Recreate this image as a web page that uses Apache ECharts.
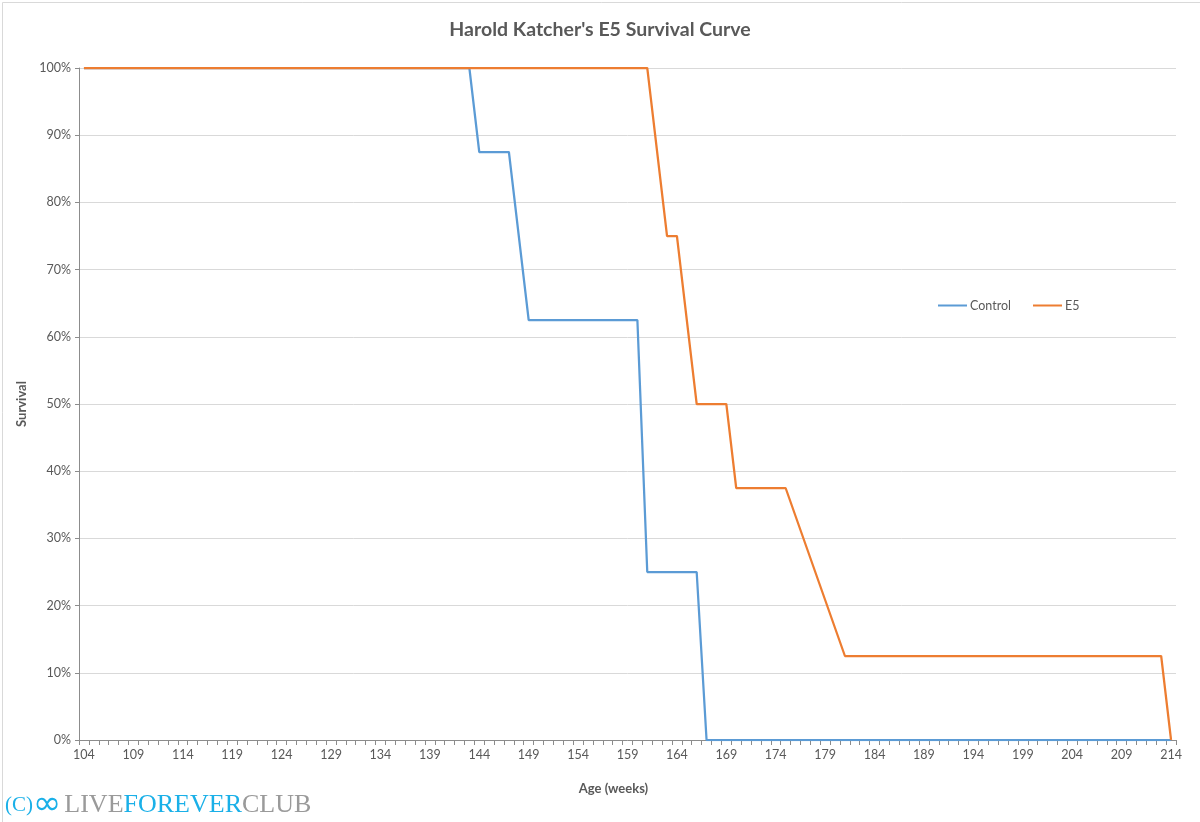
<!DOCTYPE html>
<html>
<head>
<meta charset="utf-8">
<script src="https://cdn.jsdelivr.net/npm/echarts@6/dist/echarts.min.js"></script>
<style>
html,body{margin:0;padding:0;background:#fff;}
#chart{width:1200px;height:822px;}
</style>
</head>
<body>
<div id="chart"></div>
<script>
const weeks = [104,105,106,107,108,109,110,111,112,113,114,115,116,117,118,119,120,121,122,123,124,125,126,127,128,129,130,131,132,133,134,135,136,137,138,139,140,141,142,143,144,145,146,147,148,149,150,151,152,153,154,155,156,157,158,159,160,161,162,163,164,165,166,167,168,169,170,171,172,173,174,175,176,177,178,179,180,181,182,183,184,185,186,187,188,189,190,191,192,193,194,195,196,197,198,199,200,201,202,203,204,205,206,207,208,209,210,211,212,213,214];

// Survival (%) per week; null = no observation (line connects across)
const control = [
 100,100,100,100,100,100,100,100,100,100, // 104-113
 100,100,100,100,100,100,100,100,100,100, // 114-123
 100,100,100,100,100,100,100,100,100,100, // 124-133
 100,100,100,100,100,100,100,100,100,100, // 134-143
 87.5,87.5,87.5,87.5,null,               // 144-148
 62.5,62.5,62.5,62.5,62.5,62.5,62.5,62.5,62.5,62.5,62.5,62.5, // 149-160
 25,25,25,25,25,25,                      // 161-166
 0,0,0,0,0,0,0,0,0,0,                    // 167-176
 0,0,0,0,0,0,0,0,0,0,                    // 177-186
 0,0,0,0,0,0,0,0,0,0,                    // 187-196
 0,0,0,0,0,0,0,0,0,0,                    // 197-206
 0,0,0,0,0,0,0,0                         // 207-214
];

const e5 = [
 100,100,100,100,100,100,100,100,100,100, // 104-113
 100,100,100,100,100,100,100,100,100,100, // 114-123
 100,100,100,100,100,100,100,100,100,100, // 124-133
 100,100,100,100,100,100,100,100,100,100, // 134-143
 100,100,100,100,100,100,100,100,100,100, // 144-153
 100,100,100,100,100,100,100,100,        // 154-161
 null,75,75,null,                        // 162-165
 50,50,50,50,                            // 166-169
 37.5,37.5,37.5,37.5,37.5,37.5,          // 170-175
 null,null,null,null,null,               // 176-180
 12.5,12.5,12.5,12.5,12.5,12.5,12.5,12.5,12.5,12.5, // 181-190
 12.5,12.5,12.5,12.5,12.5,12.5,12.5,12.5,12.5,12.5, // 191-200
 12.5,12.5,12.5,12.5,12.5,12.5,12.5,12.5,12.5,12.5, // 201-210
 12.5,12.5,12.5,                         // 211-213
 0                                       // 214
];

const seriesNames = ['Control', 'E5'];
const titleText = "Harold Katcher's E5 Survival Curve";

const chart = echarts.init(document.getElementById('chart'), null, {renderer: 'canvas'});
const FONT = 'Lato, "Open Sans", sans-serif';
chart.setOption({
  backgroundColor: '#ffffff',
  animation: false,
  title: {
    text: titleText,
    left: 'center',
    top: 15,
    textStyle: {fontFamily: FONT, fontSize: 19.5, fontWeight: 'bold', color: '#595959'}
  },
  legend: {
    data: seriesNames,
    left: 933,
    top: 294,
    icon: 'rect',
    itemWidth: 29,
    itemHeight: 2,
    itemGap: 22,
    textStyle: {fontFamily: FONT, fontSize: 12.5, color: '#595959', padding: [0,0,0,-2]}
  },
  grid: {left: 79, right: 24, top: 68, bottom: 82, containLabel: false},
  xAxis: {
    type: 'category',
    data: weeks,
    boundaryGap: true,
    name: 'Age (weeks)',
    nameLocation: 'middle',
    nameGap: 42,
    nameTextStyle: {fontFamily: FONT, fontSize: 13, fontWeight: 'bold', color: '#595959', padding: [0, 28, 0, 0]},
    axisLine: {lineStyle: {color: '#8c8c8c', width: 1}},
    axisTick: {show: true, interval: 0, length: 5, lineStyle: {color: '#8c8c8c'}},
    axisLabel: {interval: 4, margin: 8, fontFamily: FONT, fontSize: 12.5, color: '#595959'},
    splitLine: {show: false}
  },
  yAxis: {
    type: 'value',
    min: 0,
    max: 100,
    interval: 10,
    name: 'Survival',
    nameLocation: 'middle',
    nameGap: 51,
    nameRotate: 90,
    nameTextStyle: {fontFamily: FONT, fontSize: 13, fontWeight: 'bold', color: '#595959'},
    axisLine: {show: true, lineStyle: {color: '#8c8c8c', width: 1}},
    axisTick: {show: true, length: 4, lineStyle: {color: '#8c8c8c'}},
    axisLabel: {formatter: '{value}%', margin: 8, fontFamily: FONT, fontSize: 12.5, color: '#595959'},
    splitLine: {lineStyle: {color: '#d9d9d9', width: 1}}
  },
  series: [
    {
      name: seriesNames[0], type: 'line', data: control,
      connectNulls: true, showSymbol: false, symbol: 'none',
      color: '#5B9BD5', lineStyle: {width: 2.25, color: '#5B9BD5'}, z: 2
    },
    {
      name: seriesNames[1], type: 'line', data: e5,
      connectNulls: true, showSymbol: false, symbol: 'none',
      color: '#ED7D31', lineStyle: {width: 2.25, color: '#ED7D31'}, z: 3
    }
  ],
  graphic: [
    {
      type: 'rect', left: 0, top: 0, z: -10, silent: true,
      shape: {x: 0.5, y: 0.5, width: 1199, height: 821},
      style: {fill: 'none', stroke: '#d9d9d9', lineWidth: 1}
    },
    {
      type: 'text', left: 5, top: 788, silent: true,
      style: {
        text: '{c|(C)}{inf|∞}{g|LIVE}{b|FOREVER}{g|CLUB}',
        rich: {
          c: {fontFamily: '"Liberation Serif", serif', fontSize: 21, fill: '#1ab0e8'},
          inf: {fontFamily: '"DejaVu Sans", sans-serif', fontSize: 34, fill: '#1ab0e8', padding: [0, 3, 0, 0]},
          g: {fontFamily: '"Liberation Serif", serif', fontSize: 26, fill: '#9a9a9a'},
          b: {fontFamily: '"Liberation Serif", serif', fontSize: 26, fill: '#1ab0e8'}
        }
      }
    }
  ]
});
</script>
</body>
</html>
